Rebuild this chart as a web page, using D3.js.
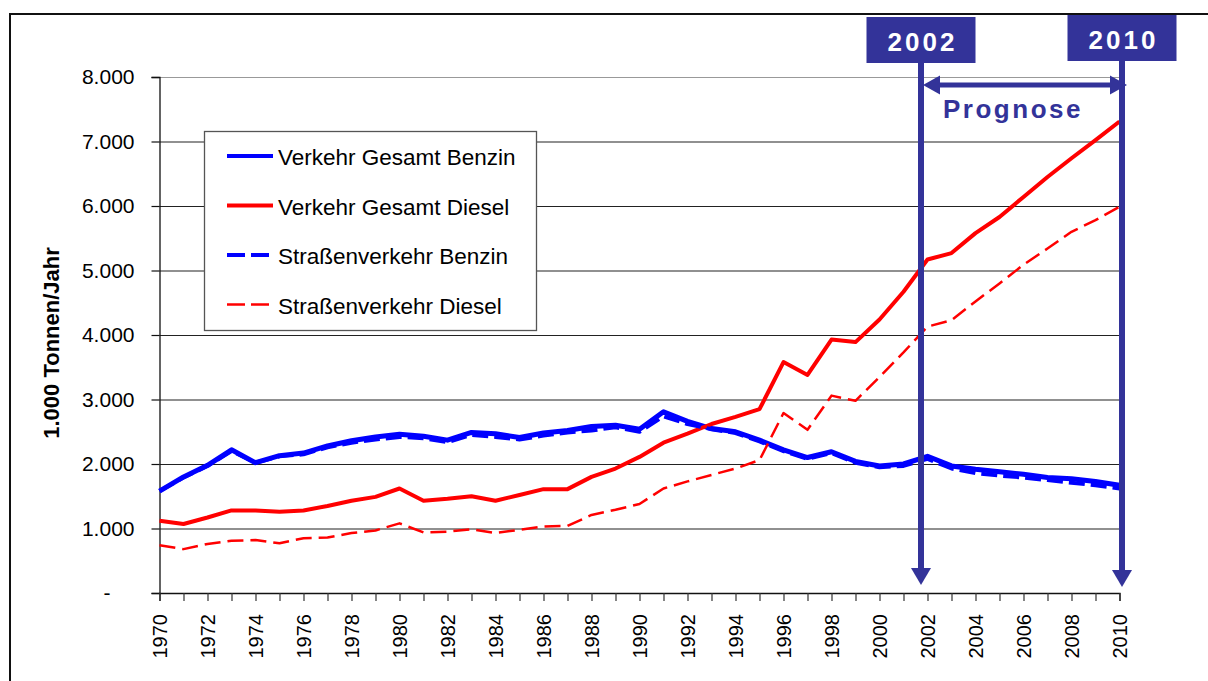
<!DOCTYPE html>
<html lang="de">
<head>
<meta charset="UTF-8">
<title>Kraftstoffverbrauch Verkehr 1970-2010</title>
<script src="https://d3js.org/d3.v7.min.js"></script>
<style>
  body { margin: 0; background: #fff; }
  text { font-family: 'Liberation Sans', Arial, sans-serif; }
</style>
</head>
<body>
<svg id="chart" width="1208" height="681"></svg>
<script>
// Daten (1.000 Tonnen/Jahr)
const years = d3.range(1970, 2011);
const gesamtBenzin = [1580, 1800, 1980, 2220, 2020, 2130, 2170, 2280, 2360, 2420,
  2460, 2430, 2370, 2490, 2470, 2410, 2480, 2520, 2580, 2600,
  2540, 2810, 2660, 2550, 2500, 2370, 2220, 2100, 2190, 2040,
  1970, 2000, 2120, 1970, 1920, 1880, 1840, 1790, 1770, 1730, 1670];
const gesamtDiesel = [1120, 1070, 1170, 1280, 1280, 1260, 1280, 1350, 1430, 1490,
  1620, 1430, 1460, 1500, 1430, 1520, 1610, 1610, 1800, 1930,
  2110, 2330, 2470, 2620, 2730, 2850, 3580, 3380, 3930, 3890,
  4240, 4670, 5170, 5270, 5580, 5830, 6140, 6450, 6740, 7020, 7310];
const strasseBenzin = [1580, 1790, 1970, 2200, 2020, 2120, 2150, 2260, 2330, 2380,
  2420, 2400, 2340, 2450, 2420, 2380, 2440, 2490, 2520, 2570,
  2500, 2740, 2620, 2540, 2480, 2350, 2200, 2080, 2170, 2020,
  1950, 1970, 2080, 1930, 1860, 1820, 1790, 1750, 1710, 1670, 1620];
const strasseDiesel = [740, 680, 760, 810, 820, 770, 850, 860, 930, 970,
  1080, 940, 950, 990, 930, 980, 1030, 1040, 1210, 1290,
  1380, 1620, 1730, 1830, 1930, 2060, 2790, 2530, 3060, 2980,
  3350, 3730, 4130, 4230, 4520, 4800, 5090, 5340, 5600, 5780, 5990];
const yTicks = [0, 1000, 2000, 3000, 4000, 5000, 6000, 7000, 8000];
const markYears = [2002, 2010];
const prognoseLabel = "Prognose";

const series = [
  { name: "Verkehr Gesamt Benzin", values: gesamtBenzin, color: "#0000ff", width: 5, dash: null },
  { name: "Verkehr Gesamt Diesel", values: gesamtDiesel, color: "#ff0000", width: 4, dash: null },
  { name: "Straßenverkehr Benzin", values: strasseBenzin, color: "#0000ff", width: 4, dash: "16,6" },
  { name: "Straßenverkehr Diesel", values: strasseDiesel, color: "#ff0000", width: 2.5, dash: "16,7" }
];

const svg = d3.select("#chart");
const navy = "#333399";
const plotLeft = 159.5, plotRight = 1119.5, plotTop = 77, plotBottom = 593;

svg.append("rect").attr("width", 1208).attr("height", 681).attr("fill", "#fff");
// outer frame
svg.append("rect")
  .attr("x", 10).attr("y", 14).attr("width", 1240).attr("height", 720)
  .attr("fill", "none").attr("stroke", "#111").attr("stroke-width", 2);

const x = d3.scaleLinear().domain([1970, 2010]).range([plotLeft, plotRight]);
const y = d3.scaleLinear().domain([0, 8000]).range([plotBottom, plotTop]);

const de = d3.formatLocale({ decimal: ",", thousands: ".", grouping: [3], currency: ["", " €"] });
const fmt = de.format(",d");

// gridlines
svg.append("g")
  .attr("transform", `translate(${plotLeft},0)`)
  .call(d3.axisLeft(y).tickValues(yTicks.slice(1)).tickSize(-(plotRight - plotLeft)).tickFormat(""))
  .call(g => g.select(".domain").remove())
  .call(g => g.selectAll(".tick line")
    .attr("stroke", d => d === 8000 ? "#999" : "#222")
    .attr("stroke-width", 1.2));

// y axis
const yAxis = svg.append("g")
  .attr("transform", `translate(${plotLeft},0)`)
  .call(d3.axisLeft(y).tickValues(yTicks).tickSize(8).tickPadding(17)
    .tickFormat(d => d === 0 ? "-" : fmt(d)));
yAxis.select(".domain").attr("stroke", "#111").attr("stroke-width", 1.3);
yAxis.selectAll(".tick line").attr("stroke", "#111").attr("stroke-width", 1.2);
yAxis.selectAll(".tick text")
  .attr("font-size", 21).attr("fill", "#000")
  .attr("font-family", "'Liberation Sans', Arial, sans-serif")
  .attr("dx", d => d === 0 ? -24 : 0);

// x axis
const xAxis = svg.append("g")
  .attr("transform", `translate(0,${plotBottom})`)
  .call(d3.axisBottom(x).tickValues(years).tickSize(8).tickFormat(""));
xAxis.select(".domain").attr("stroke", "#111").attr("stroke-width", 1.3);
xAxis.selectAll(".tick line").attr("stroke", "#333").attr("stroke-width", 1.2);

svg.append("g").selectAll("text")
  .data(years.filter(yr => yr % 2 === 0))
  .join("text")
  .attr("transform", d => `translate(${x(d) + 7.5},${plotBottom + 21}) rotate(-90)`)
  .attr("text-anchor", "end")
  .attr("font-size", 20)
  .attr("fill", "#000")
  .text(d => d);

// y title
svg.append("text")
  .attr("transform", "translate(59,343) rotate(-90)")
  .attr("text-anchor", "middle")
  .attr("font-size", 22)
  .attr("font-weight", "bold")
  .attr("fill", "#000")
  .text("1.000 Tonnen/Jahr");

// lines
const line = vals => d3.line()
  .x((d, i) => x(years[i]))
  .y(d => y(d))(vals);

svg.append("g").selectAll("path")
  .data(series)
  .join("path")
  .attr("d", s => line(s.values))
  .attr("fill", "none")
  .attr("stroke", s => s.color)
  .attr("stroke-width", s => s.width)
  .attr("stroke-dasharray", s => s.dash)
  .attr("stroke-linejoin", "round");

// legend
const legend = svg.append("g");
legend.append("rect")
  .attr("x", 204.5).attr("y", 131.5).attr("width", 332).attr("height", 199)
  .attr("fill", "#fff").attr("stroke", "#555").attr("stroke-width", 1.3);
const rows = legend.selectAll("g.row")
  .data(series)
  .join("g")
  .attr("class", "row")
  .attr("transform", (d, i) => `translate(0,${156 + i * 49.5})`);
rows.append("line")
  .attr("x1", 227).attr("x2", 273)
  .attr("stroke", s => s.color)
  .attr("stroke-width", s => Math.min(s.width, 4))
  .attr("stroke-dasharray", s => s.dash ? "18,6" : null);
rows.append("text")
  .attr("x", 278).attr("y", 9)
  .attr("font-size", 22.5)
  .attr("fill", "#000")
  .text(s => s.name);

// Prognose annotation
const markX = [x(markYears[0]) - 6.5, x(markYears[1]) + 2.5];
const boxes = svg.append("g").selectAll("g")
  .data(markYears)
  .join("g");
boxes.append("rect")
  .attr("x", (d, i) => markX[i] - 54.5)
  .attr("y", (d, i) => i === 0 ? 17 : 15)
  .attr("width", 109).attr("height", 46)
  .attr("fill", navy);
boxes.append("text")
  .attr("x", (d, i) => markX[i] + 1.5)
  .attr("y", (d, i) => i === 0 ? 50.5 : 48.5)
  .attr("text-anchor", "middle")
  .attr("font-size", 26)
  .attr("font-weight", "bold")
  .attr("letter-spacing", 3)
  .attr("fill", "#fff")
  .text(d => d);
boxes.append("line")
  .attr("x1", (d, i) => markX[i]).attr("x2", (d, i) => markX[i])
  .attr("y1", 60).attr("y2", (d, i) => i === 0 ? 570 : 572)
  .attr("stroke", navy).attr("stroke-width", 6);
boxes.append("path")
  .attr("d", (d, i) => {
    const cx = markX[i], t = i === 0 ? 568 : 570;
    return `M${cx - 10},${t}L${cx + 10},${t}L${cx},${t + 17}Z`;
  })
  .attr("fill", navy);

// double arrow
const ay = 85, ax1 = markX[0] + 2, ax2 = markX[1] + 5;
svg.append("line")
  .attr("x1", ax1 + 12).attr("x2", ax2 - 12)
  .attr("y1", ay).attr("y2", ay)
  .attr("stroke", navy).attr("stroke-width", 5);
svg.append("path")
  .attr("d", `M${ax1},${ay}L${ax1 + 17},${ay - 9.5}L${ax1 + 17},${ay + 9.5}Z`)
  .attr("fill", navy);
svg.append("path")
  .attr("d", `M${ax2},${ay}L${ax2 - 17},${ay - 9.5}L${ax2 - 17},${ay + 9.5}Z`)
  .attr("fill", navy);
svg.append("text")
  .attr("x", (markX[0] + markX[1]) / 2 - 8.5)
  .attr("y", 118)
  .attr("text-anchor", "middle")
  .attr("font-size", 26)
  .attr("font-weight", "bold")
  .attr("letter-spacing", 2.5)
  .attr("fill", navy)
  .text(prognoseLabel);
</script>
</body>
</html>
